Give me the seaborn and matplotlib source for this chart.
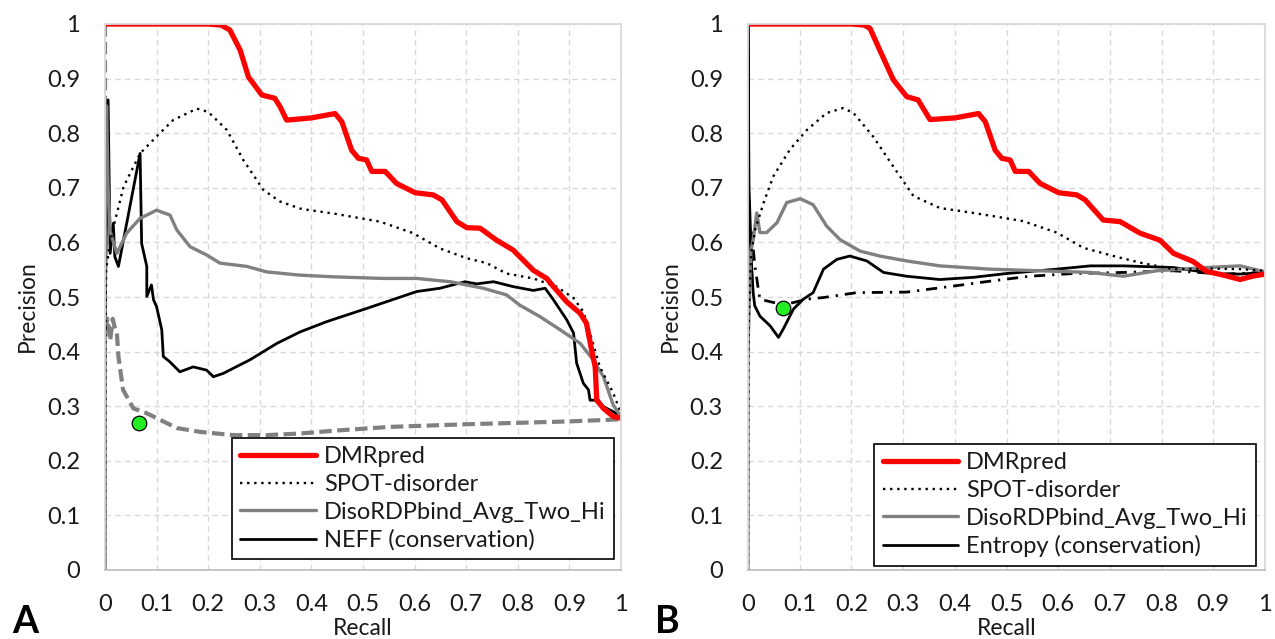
import numpy as np
import pandas as pd
import matplotlib
matplotlib.use("Agg")
import matplotlib.pyplot as plt
import seaborn as sns
from matplotlib.lines import Line2D

# ---------------- Data ----------------
# Panel A
a_dmr_x = [0, 0.10, 0.20, 0.225, 0.242, 0.262, 0.278, 0.304, 0.329, 0.339, 0.352, 0.40, 0.446, 0.459, 0.478,
           0.491, 0.507, 0.517, 0.543, 0.565, 0.601, 0.636, 0.653, 0.682, 0.701, 0.727, 0.759, 0.791,
           0.830, 0.856, 0.869, 0.895, 0.921, 0.933, 0.943, 0.950, 0.953, 0.966, 0.985, 1.0]
a_dmr_y = [1.0, 1.0, 1.0, 0.998, 0.989, 0.952, 0.903, 0.870, 0.864, 0.849, 0.824, 0.828, 0.836, 0.821, 0.769,
           0.754, 0.751, 0.730, 0.730, 0.708, 0.691, 0.687, 0.678, 0.638, 0.627, 0.626, 0.604, 0.586,
           0.549, 0.534, 0.519, 0.491, 0.470, 0.452, 0.403, 0.372, 0.311, 0.296, 0.281, 0.278]

a_spot_x = [0, 0.001, 0.002, 0.010, 0.019, 0.036, 0.068, 0.100, 0.132, 0.178, 0.200, 0.236, 0.268, 0.307,
            0.339, 0.378, 0.397, 0.442, 0.533, 0.597, 0.649, 0.701, 0.740, 0.778, 0.830, 0.875, 0.908,
            0.927, 0.940, 0.959, 0.985, 1.0]
a_spot_y = [0, 0.45, 0.55, 0.60, 0.638, 0.702, 0.763, 0.794, 0.824, 0.845, 0.839, 0.806, 0.751, 0.696,
            0.675, 0.662, 0.659, 0.653, 0.638, 0.617, 0.589, 0.571, 0.562, 0.543, 0.534, 0.519, 0.498,
            0.473, 0.434, 0.372, 0.324, 0.287]

a_diso_x = [0, 0.001, 0.003, 0.006, 0.010, 0.023, 0.042, 0.068, 0.100, 0.126, 0.139, 0.165, 0.197, 0.223,
            0.275, 0.313, 0.378, 0.442, 0.539, 0.604, 0.669, 0.733, 0.778, 0.804, 0.843, 0.882, 0.921,
            0.946, 0.966, 0.985, 1.0]
a_diso_y = [0.45, 0.70, 0.85, 0.70, 0.62, 0.580, 0.617, 0.644, 0.659, 0.650, 0.623, 0.592, 0.577, 0.562,
            0.556, 0.546, 0.540, 0.537, 0.534, 0.534, 0.528, 0.516, 0.504, 0.485, 0.464, 0.440, 0.415,
            0.385, 0.354, 0.302, 0.281]

a_neff_x = [0, 0.0, 0.006, 0.010, 0.016, 0.019, 0.026, 0.068, 0.071, 0.081, 0.081, 0.090, 0.094, 0.100,
            0.110, 0.113, 0.126, 0.145, 0.171, 0.197, 0.210, 0.229, 0.281, 0.333, 0.378, 0.430, 0.507,
            0.604, 0.649, 0.698, 0.720, 0.753, 0.791, 0.830, 0.853, 0.869, 0.895, 0.908, 0.914, 0.927,
            0.937, 0.940, 0.956, 0.966, 0.985, 1.0]
a_neff_y = [0, 0.45, 0.861, 0.580, 0.635, 0.574, 0.556, 0.763, 0.598, 0.556, 0.501, 0.522, 0.495, 0.482,
            0.440, 0.391, 0.381, 0.363, 0.372, 0.366, 0.354, 0.360, 0.385, 0.415, 0.436, 0.455, 0.479,
            0.510, 0.516, 0.528, 0.524, 0.528, 0.519, 0.512, 0.516, 0.495, 0.458, 0.434, 0.379, 0.342,
            0.330, 0.311, 0.311, 0.299, 0.290, 0.281]

a_base_x = [0, 0.0, 0.005, 0.010, 0.015, 0.020, 0.023, 0.026, 0.035, 0.055, 0.081, 0.107, 0.139, 0.184,
            0.249, 0.313, 0.378, 0.442, 0.55, 0.701, 0.895, 1.0]
a_base_y = [1.0, 0.44, 0.46, 0.42, 0.46, 0.44, 0.434, 0.391, 0.330, 0.296, 0.287, 0.275, 0.260, 0.253,
            0.247, 0.247, 0.250, 0.255, 0.262, 0.267, 0.272, 0.276]

a_point_x = [0.066]
a_point_y = [0.269]

# Panel B
b_dmr_x = [0, 0.10, 0.20, 0.225, 0.236, 0.255, 0.281, 0.307, 0.329, 0.352, 0.40, 0.446, 0.459, 0.478,
           0.491, 0.507, 0.517, 0.543, 0.565, 0.601, 0.636, 0.652, 0.687, 0.720, 0.758, 0.797, 0.823,
           0.861, 0.887, 0.920, 0.952, 0.975, 1.0]
b_dmr_y = [1.0, 1.0, 1.0, 0.998, 0.992, 0.952, 0.898, 0.867, 0.861, 0.825, 0.828, 0.836, 0.821, 0.769,
           0.754, 0.751, 0.730, 0.730, 0.708, 0.691, 0.687, 0.678, 0.641, 0.638, 0.617, 0.604, 0.580,
           0.565, 0.547, 0.540, 0.532, 0.538, 0.542]

b_spot_x = [0, 0.001, 0.006, 0.014, 0.030, 0.049, 0.081, 0.114, 0.152, 0.184, 0.204, 0.242, 0.281, 0.320,
            0.371, 0.436, 0.532, 0.597, 0.649, 0.707, 0.758, 0.823, 0.900, 0.952, 1.0]
b_spot_y = [0, 0.45, 0.58, 0.624, 0.672, 0.721, 0.770, 0.806, 0.837, 0.846, 0.837, 0.794, 0.739, 0.685,
            0.663, 0.654, 0.639, 0.618, 0.590, 0.575, 0.563, 0.551, 0.552, 0.551, 0.548]

b_diso_x = [0, 0.0, 0.005, 0.010, 0.017, 0.023, 0.036, 0.056, 0.075, 0.101, 0.126, 0.152, 0.178, 0.217,
            0.255, 0.307, 0.371, 0.468, 0.565, 0.662, 0.726, 0.790, 0.887, 0.952, 1.0]
b_diso_y = [0, 0.40, 0.58, 0.605, 0.654, 0.618, 0.618, 0.636, 0.673, 0.680, 0.669, 0.630, 0.605, 0.584,
            0.575, 0.566, 0.557, 0.551, 0.548, 0.545, 0.538, 0.548, 0.554, 0.557, 0.546]

b_ent_x = [0, 0.0, 0.002, 0.007, 0.010, 0.013, 0.023, 0.043, 0.059, 0.068, 0.088, 0.107, 0.126, 0.146,
           0.172, 0.197, 0.230, 0.262, 0.307, 0.371, 0.436, 0.500, 0.597, 0.662, 0.726, 0.823, 0.907,
           0.952, 1.0]
b_ent_y = [0.40, 1.0, 0.70, 0.557, 0.508, 0.484, 0.465, 0.447, 0.426, 0.441, 0.478, 0.496, 0.508, 0.551,
           0.569, 0.575, 0.566, 0.545, 0.538, 0.532, 0.536, 0.543, 0.551, 0.557, 0.557, 0.554, 0.542,
           0.542, 0.545]

b_base_x = [0.003, 0.007, 0.013, 0.020, 0.023, 0.049, 0.080, 0.114, 0.146, 0.210, 0.307, 0.397, 0.468,
            0.545, 0.629, 0.726, 0.823, 0.919, 1.0]
b_base_y = [0.60, 0.618, 0.56, 0.514, 0.496, 0.490, 0.488, 0.496, 0.499, 0.508, 0.509, 0.520, 0.529,
            0.538, 0.543, 0.545, 0.548, 0.542, 0.545]

b_point_x = [0.067]
b_point_y = [0.479]

legend_a = ["DMRpred", "SPOT-disorder", "DisoRDPbind_Avg_Two_Hi", "NEFF (conservation)"]
legend_b = ["DMRpred", "SPOT-disorder", "DisoRDPbind_Avg_Two_Hi", "Entropy (conservation)"]
ticks = [0, 0.1, 0.2, 0.3, 0.4, 0.5, 0.6, 0.7, 0.8, 0.9, 1.0]
tick_labels = ["0", "0.1", "0.2", "0.3", "0.4", "0.5", "0.6", "0.7", "0.8", "0.9", "1"]

# ---------------- Styling ----------------
sns.set_theme(style="white")
plt.rcParams['font.family'] = ['Lato', 'DejaVu Sans']

fig = plt.figure(figsize=(12.75, 6.39), dpi=100)
bottom = 1 - 570 / 639
height = (570 - 24) / 639
axA = fig.add_axes([105 / 1275, bottom, 516 / 1275, height])
axB = fig.add_axes([748 / 1275, bottom, 517 / 1275, height])

RED = "#ff0000"
GREY = "#808080"
BLACK = "#000000"
TXT = "#1a1a1a"


def draw(ax, base_x, base_y, base_style, dmr, spot, diso, cons, pt, labels, letter, leg_anchor):
    # helper (non-legend) curve
    sns.lineplot(x=base_x, y=base_y, ax=ax, sort=False, estimator=None, **base_style, legend=False)
    sns.lineplot(x=cons[0], y=cons[1], ax=ax, sort=False, estimator=None, color=BLACK, lw=2.0)
    sns.lineplot(x=diso[0], y=diso[1], ax=ax, sort=False, estimator=None, color=GREY, lw=2.4)
    sns.lineplot(x=spot[0], y=spot[1], ax=ax, sort=False, estimator=None, color=BLACK, lw=1.7,
                 linestyle=(0, (1, 2)))
    sns.lineplot(x=dmr[0], y=dmr[1], ax=ax, sort=False, estimator=None, color=RED, lw=3.8)
    ax.scatter(pt[0], pt[1], s=110, color="#22ee22", edgecolor=BLACK, linewidth=0.9, zorder=10)

    ax.set_xlim(0, 1)
    ax.set_ylim(0, 1)
    ax.set_xticks(ticks)
    ax.set_yticks(ticks)
    ax.set_xticklabels(tick_labels)
    ax.set_yticklabels(tick_labels)
    ax.tick_params(axis="both", length=0, labelsize=17, colors=TXT)
    ax.tick_params(axis="x", pad=17)
    ax.tick_params(axis="y", pad=18)
    ax.grid(True, color="#d9d9d9", linestyle=(0, (4, 3)), linewidth=1.0)
    ax.set_axisbelow(True)
    for sp in ax.spines.values():
        sp.set_visible(True)
        sp.set_color("#d9d9d9")
        sp.set_linewidth(1.3)
    ax.spines["bottom"].set_color("#bfbfbf")
    ax.set_xlabel("Recall", fontsize=16.5, color=TXT)
    ax.set_ylabel("Precision", fontsize=16.5, color=TXT)
    ax.xaxis.set_label_coords(0.5, -0.087)
    ax.yaxis.set_label_coords(-0.13, 0.483)

    handles = [Line2D([], [], color=RED, lw=3.8),
               Line2D([], [], color=BLACK, lw=1.7, linestyle=(0, (1, 2))),
               Line2D([], [], color=GREY, lw=2.4),
               Line2D([], [], color=BLACK, lw=2.0)]
    leg = ax.legend(handles, labels, loc="lower right", bbox_to_anchor=leg_anchor,
                    fontsize=17, frameon=True, fancybox=False, framealpha=1,
                    edgecolor=BLACK, handlelength=3.2, handletextpad=0.35,
                    labelspacing=0.28, borderpad=0.35, borderaxespad=0)
    leg.get_frame().set_linewidth(1.2)
    for t in leg.get_texts():
        t.set_color(TXT)
    ax.text(-0.18, -0.095, letter, transform=ax.transAxes, fontsize=27, fontweight="bold",
            ha="left", va="center", color=BLACK)


draw(axA, a_base_x, a_base_y, dict(color=GREY, lw=3.0, linestyle=(0, (3, 1.3))),
     (a_dmr_x, a_dmr_y), (a_spot_x, a_spot_y), (a_diso_x, a_diso_y), (a_neff_x, a_neff_y),
     (a_point_x, a_point_y), legend_a, "A", (0.986, 0.02))
draw(axB, b_base_x, b_base_y, dict(color=BLACK, lw=2.0, linestyle=(0, (4, 2.5, 0.8, 2.5))),
     (b_dmr_x, b_dmr_y), (b_spot_x, b_spot_y), (b_diso_x, b_diso_y), (b_ent_x, b_ent_y),
     (b_point_x, b_point_y), legend_b, "B", (0.983, 0.008))

fig.savefig("out.png", dpi=100)
